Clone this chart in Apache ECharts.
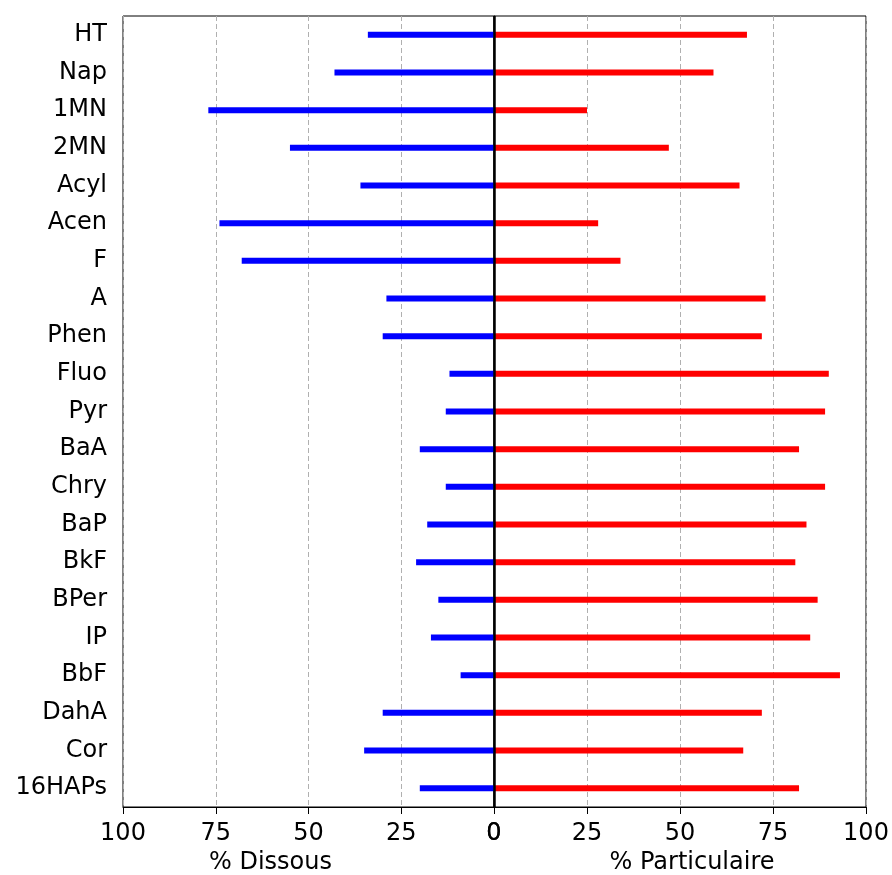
<!DOCTYPE html>
<html>
<head>
<meta charset="utf-8">
<script src="https://cdn.jsdelivr.net/npm/echarts@6/dist/echarts.min.js"></script>
<style>html,body{margin:0;padding:0;background:#fff;overflow:hidden}#c{width:892px;height:875px}</style>
</head>
<body>
<div id="c"></div>
<script>
const categories = ["HT","Nap","1MN","2MN","Acyl","Acen","F","A","Phen","Fluo","Pyr","BaA","Chry","BaP","BkF","BPer","IP","BbF","DahA","Cor","16HAPs"];
const dissous = [34,43,77,55,36,74,68,29,30,12,13,20,13,18,21,15,17,9,30,35,20];
const particulaire = [68,59,25,47,66,28,34,73,72,90,89,82,89,84,81,87,85,93,72,67,82];
const xTicks = [0,25,50,75,100];

const FONT = 'DejaVu Sans';
const FS = 24;
const chart = echarts.init(document.getElementById('c'), null, {renderer:'canvas', width:892, height:875});

function xAx(grid, name, pad){
  return {
    type:'value', gridIndex:grid, min:xTicks[0], max:xTicks[xTicks.length-1], interval:25,
    inverse: grid===0,
    axisLine:{show:true, lineStyle:{color:'#000', width:1}},
    axisTick:{show:true, length:7, inside:false, lineStyle:{color:'#000', width:1}},
    axisLabel:{fontFamily:FONT, fontSize:FS, color:'#000', margin:15},
    splitLine:{show:true, lineStyle:{color:'#b0b0b0', width:1, type:[5,3]}},
    name:name, nameLocation:'middle', nameGap:44,
    nameTextStyle:{fontFamily:FONT, fontSize:FS, color:'#000', padding:pad}
  };
}

chart.setOption({
  animation:false,
  backgroundColor:'#fff',
  grid:[
    {left:123, width:371, top:16, height:791, show:true, borderColor:'#000', borderWidth:1,
     containLabel:false, outerBoundsMode:'none'},
    {left:494, width:372, top:16, height:791, show:true, borderColor:'#000', borderWidth:1,
     containLabel:false, outerBoundsMode:'none'}
  ],
  xAxis:[ xAx(0,'% Dissous',[0,76,0,0]), xAx(1,'% Particulaire',[0,0,0,24]) ],
  yAxis:[
    {type:'category', gridIndex:0, data:categories, inverse:true,
     axisLine:{show:true, lineStyle:{color:'#000', width:1}},
     axisTick:{show:true, alignWithLabel:true, length:7, lineStyle:{color:'#000', width:1}},
     axisLabel:{fontFamily:FONT, fontSize:FS, color:'#000', margin:16},
     splitLine:{show:false}},
    {type:'category', gridIndex:1, data:categories, inverse:true,
     axisLine:{show:false}, axisTick:{show:false}, axisLabel:{show:false}, splitLine:{show:false}}
  ],
  series:[
    {type:'bar', name:'% Dissous', xAxisIndex:0, yAxisIndex:0, data:dissous, barWidth:6,
     itemStyle:{color:'#0000ff'}},
    {type:'bar', name:'% Particulaire', xAxisIndex:1, yAxisIndex:1, data:particulaire, barWidth:6,
     itemStyle:{color:'#ff0000'},
     markLine:{silent:true, symbol:['none','none'], label:{show:false},
       lineStyle:{color:'#000', width:2.5, type:'solid'}, data:[{xAxis:0}]}}
  ]
});
</script>
</body>
</html>
